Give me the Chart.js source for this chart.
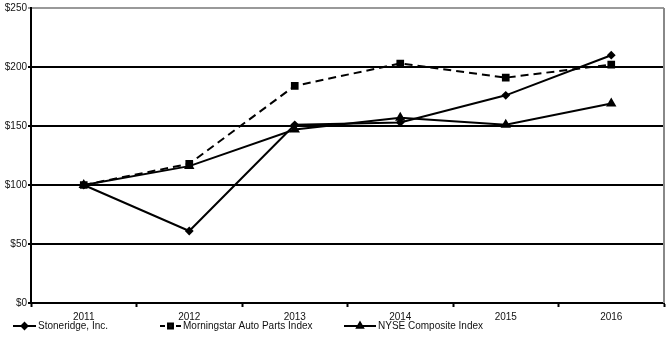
<!DOCTYPE html>
<html>
<head>
<meta charset="utf-8">
<script src="https://cdn.jsdelivr.net/npm/chart.js@4/dist/chart.umd.min.js"></script>
<style>
  html, body { margin: 0; padding: 0; background: #fff; }
  #wrap { width: 670px; height: 343px; }
</style>
</head>
<body>
<div id="wrap"><canvas id="perfChart" width="670" height="343"></canvas></div>
<script>
const years = ['2011', '2012', '2013', '2014', '2015', '2016'];
const stoneridge = [100, 61, 151, 153, 176, 210];
const morningstar = [100, 118, 184, 203, 191, 202];
const nyse = [100, 116, 147, 157, 151, 169];
const yTicks = [0, 50, 100, 150, 200, 250];

const FONT = { family: '"Liberation Sans", Arial, sans-serif', size: 10 };

// legend along the bottom, drawn by hand to get line + marker samples
const bottomLegend = {
    id: 'bottomLegend',
    afterDraw(chart) {
        const c = chart.ctx;
        const y = 326;
        const items = [
            { x0: 13, x1: 36, label: 'Stoneridge, Inc.', style: 'rectRot', r: 3, dash: [] },
            { x0: 160, x1: 181, label: 'Morningstar Auto Parts Index', style: 'rect', r: 3.5, dash: [5, 3] },
            { x0: 344, x1: 376, label: 'NYSE Composite Index', style: 'triangle', r: 3.5, dash: [] }
        ];
        c.save();
        items.forEach(it => {
            c.strokeStyle = '#000';
            c.lineWidth = 2;
            c.setLineDash(it.dash);
            c.beginPath();
            c.moveTo(it.x0, y);
            c.lineTo(it.x1, y);
            c.stroke();
            c.setLineDash([]);
            Chart.helpers.drawPoint(c, { pointStyle: it.style, radius: it.r, borderWidth: 1 }, (it.x0 + it.x1) / 2, y);
            c.fillStyle = '#111';
            c.font = FONT.size + 'px ' + FONT.family;
            c.textBaseline = 'middle';
            c.fillText(it.label, it.x1 + 2, y);
        });
        c.restore();
    }
};

// grey frame on the right edge
const rightEdge = {
    id: 'rightEdge',
    beforeDatasetsDraw(chart) {
        const a = chart.chartArea;
        const c = chart.ctx;
        c.save();
        c.strokeStyle = '#888';
        c.lineWidth = 2;
        c.beginPath();
        c.moveTo(a.right, a.top);
        c.lineTo(a.right, a.bottom);
        c.stroke();
        c.restore();
    }
};

Chart.defaults.font = FONT;
Chart.defaults.color = '#111';

new Chart(document.getElementById('perfChart'), {
    type: 'line',
    data: {
        labels: years,
        datasets: [
            {
                label: 'Stoneridge, Inc.',
                data: stoneridge,
                borderColor: '#000',
                backgroundColor: '#000',
                borderWidth: 2,
                pointStyle: 'rectRot',
                pointRadius: 3,
                tension: 0
            },
            {
                label: 'Morningstar Auto Parts Index',
                data: morningstar,
                borderColor: '#000',
                backgroundColor: '#000',
                borderWidth: 2,
                borderDash: [8, 5],
                pointStyle: 'rect',
                pointRadius: 4,
                tension: 0
            },
            {
                label: 'NYSE Composite Index',
                data: nyse,
                borderColor: '#000',
                backgroundColor: '#000',
                borderWidth: 2,
                pointStyle: 'triangle',
                pointRadius: 4,
                tension: 0
            }
        ]
    },
    options: {
        responsive: false,
        animation: false,
        layout: { padding: { top: 8, right: 5, left: 0, bottom: 0 } },
        plugins: {
            legend: { display: false },
            tooltip: { enabled: false }
        },
        scales: {
            x: {
                offset: true,
                grid: {
                    display: true,
                    offset: true,
                    drawOnChartArea: false,
                    drawTicks: true,
                    tickLength: 4,
                    tickWidth: 2,
                    tickColor: '#000'
                },
                border: { color: '#000', width: 2 },
                ticks: { padding: 4 },
                afterFit(scale) { scale.height = 40; }
            },
            y: {
                min: 0,
                max: 250,
                afterBuildTicks(scale) { scale.ticks = yTicks.map(v => ({ value: v })); },
                grid: {
                    color: ctx => ctx.tick && ctx.tick.value === 250 ? '#999' : '#000',
                    lineWidth: 2,
                    drawTicks: true,
                    tickLength: 3
                },
                border: { color: '#000', width: 2 },
                ticks: {
                    padding: 1,
                    callback: v => '$' + v
                },
                afterFit(scale) { scale.width = 31; }
            }
        }
    },
    plugins: [rightEdge, bottomLegend]
});
</script>
</body>
</html>
